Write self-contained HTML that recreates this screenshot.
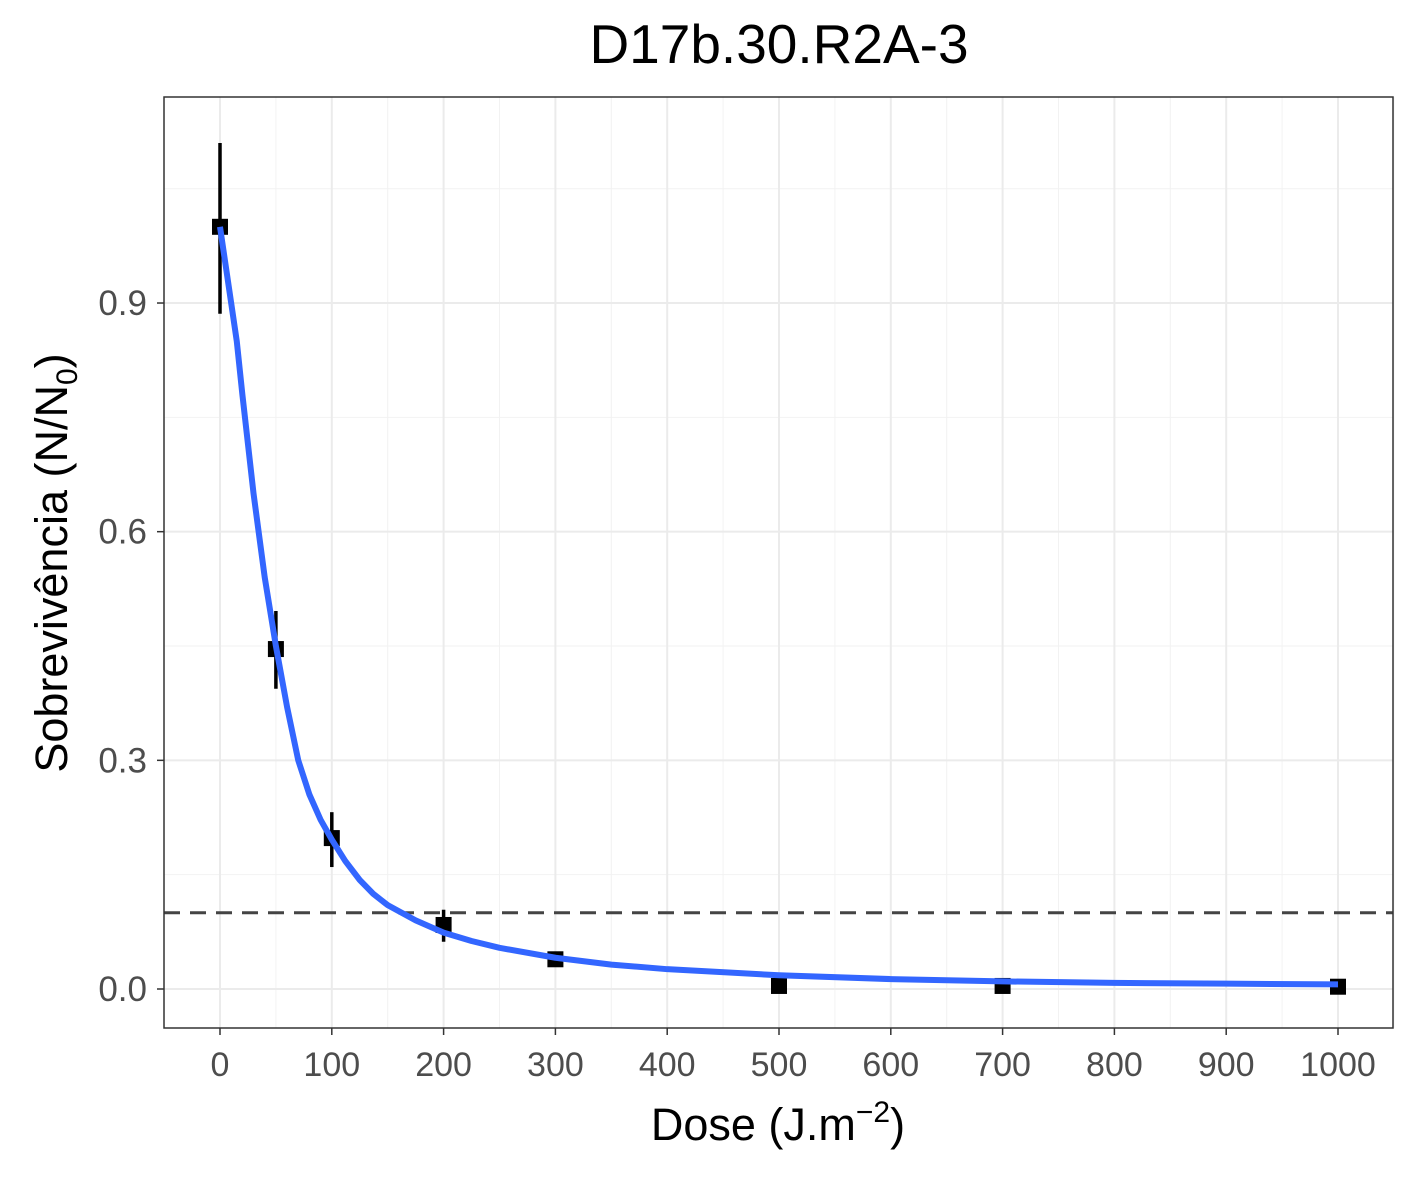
<!DOCTYPE html>
<html><head><meta charset="utf-8"><style>
body{margin:0;background:#fff}
svg text{font-family:"Liberation Sans",Arial,sans-serif}
</style></head><body>
<svg id="chart" width="1417" height="1181" xmlns="http://www.w3.org/2000/svg">
<rect width="1417" height="1181" fill="#fff"/>
<g id="grid"></g>
<g id="marks"></g>
<rect x="164" y="97" width="1229" height="931" fill="none" stroke="#333" stroke-width="1.5"/>
<g id="ticks"></g>
<text x="779" y="63" font-size="55" text-anchor="middle">D17b.30.R2A-3</text>
<text x="778" y="1140" font-size="45" text-anchor="middle">Dose (J.m<tspan font-size="30" dy="-18">−2</tspan><tspan dy="18">)</tspan></text>
<text transform="translate(67,563) rotate(-90)" font-size="45" text-anchor="middle">Sobrevivência (N/N<tspan font-size="30" dy="10">0</tspan><tspan dy="-10">)</tspan></text>
</svg>
<script>
const doses=[0,50,100,200,300,500,700,1000];
const means=[1.0,0.446,0.198,0.084,0.039,0.004,0.004,0.003];
const lows=[0.886,0.394,0.16,0.062,0.035,0.002,0.002,0.001];
const highs=[1.11,0.496,0.232,0.104,0.043,0.006,0.006,0.005];
const fitDose=[0,5,10,15,20,30,40,50,60,70,80,90,100,112,125,137,150,175,200,225,250,300,350,400,500,600,700,800,900,1000];
const fitVal=[1.0,0.95,0.9,0.85,0.78,0.65,0.54,0.45,0.37,0.3,0.255,0.222,0.196,0.168,0.143,0.125,0.11,0.09,0.074,0.063,0.054,0.041,0.032,0.026,0.018,0.013,0.01,0.008,0.007,0.006];
const xTicks=[0,100,200,300,400,500,600,700,800,900,1000];
const yTicks=[0,0.3,0.6,0.9];
const threshold=0.1;
const NS="http://www.w3.org/2000/svg";
const X=v=>220+v*1.118, Y=v=>989-v*762.2;
function mk(p,t,a){const e=document.createElementNS(NS,t);for(const k in a)e.setAttribute(k,a[k]);p.appendChild(e);return e;}
const grid=document.getElementById('grid'),marks=document.getElementById('marks'),ticks=document.getElementById('ticks');
[0.15,0.45,0.75,1.05].forEach(v=>{const l=mk(grid,'line',{x1:164,x2:1393,y1:Y(v),y2:Y(v),stroke:'#f2f2f2','stroke-width':1});

});
for(let v=-50;v<=1050;v+=100){const l=mk(grid,'line',{x1:X(v),x2:X(v),y1:97,y2:1028,stroke:'#f2f2f2','stroke-width':1});

}
yTicks.forEach(v=>{const l=mk(grid,'line',{x1:164,x2:1393,y1:Y(v),y2:Y(v),stroke:'#ebebeb','stroke-width':2});


const t=mk(ticks,'line',{x1:157,x2:164,y1:Y(v),y2:Y(v),stroke:'#333','stroke-width':1.5});


const tx=mk(ticks,'text',{x:147,y:Y(v)+12,'font-size':35,'text-anchor':'end',fill:'#4d4d4d'});tx.textContent=v.toFixed(1);

});
xTicks.forEach(v=>{const l=mk(grid,'line',{x1:X(v),x2:X(v),y1:97,y2:1028,stroke:'#ebebeb','stroke-width':2});


const t=mk(ticks,'line',{x1:X(v),x2:X(v),y1:1028,y2:1035,stroke:'#333','stroke-width':1.5});


const tx=mk(ticks,'text',{x:X(v),y:1076,'font-size':34,'text-anchor':'middle',fill:'#4d4d4d'});tx.textContent=v;

});
doses.forEach((d,i)=>{
const e=mk(marks,'line',{x1:X(d),x2:X(d),y1:Y(lows[i]),y2:Y(highs[i]),stroke:'#000','stroke-width':3.5});


const r=mk(marks,'rect',{x:X(d)-8,y:Y(means[i])-8,width:16,height:16,fill:'#000'});

});
const dl=mk(marks,'line',{x1:164,x2:1393,y1:Y(threshold),y2:Y(threshold),stroke:'#444','stroke-width':3,'stroke-dasharray':'16,10'});


const fit=mk(marks,'polyline',{points:fitDose.map((d,i)=>X(d)+','+Y(fitVal[i])).join(' '),fill:'none',stroke:'#3366ff','stroke-width':6,'stroke-linejoin':'round'});


</script>
</body></html>
